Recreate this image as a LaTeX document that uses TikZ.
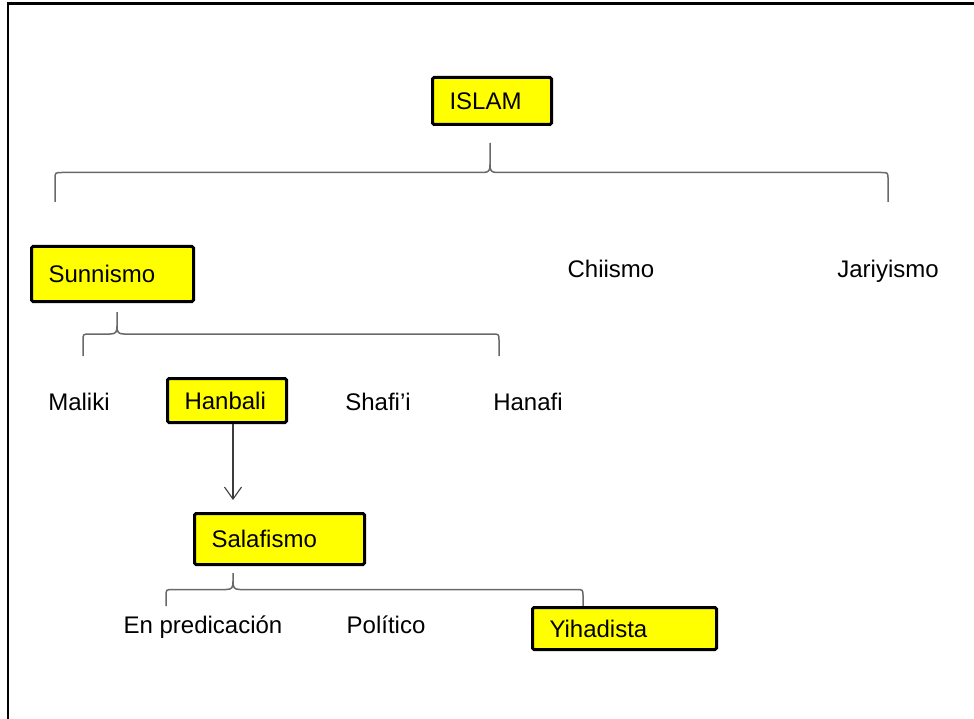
\documentclass[tikz,border=0pt]{standalone}
\usepackage{fontspec}
\setmainfont{Liberation Sans}
\usetikzlibrary{calc,arrows.meta}

\definecolor{gelb}{RGB}{255,255,0}
\definecolor{klammergrau}{RGB}{105,105,105}
\definecolor{pfeilgrau}{RGB}{60,60,60}

\tikzset{
  kasten/.style={draw=black, fill=gelb, line width=3pt, rounded corners=1.5pt,
    inner xsep=17pt, inner ysep=0pt, align=left},
  wort/.style={anchor=base, inner sep=0pt},
  klammer/.style={draw=klammergrau, line width=1.5pt},
  pfeil/.style={draw=pfeilgrau, line width=1.1pt,
    -{Straight Barb[length=12pt,width=17pt,line width=1.1pt]}}
}

% geschweifte Klammer: #1 linkes Ende, #2 rechtes Ende, #3 Spitze
\newcommand{\klammer}[3]{%
  \draw[klammer] let \p1=(#1), \p2=(#2), \p3=(#3), \p4=($(#1)!.5!(#3)$) in
    (\p1) -- (\x1,\y4-7pt) .. controls (\x1,\y4) .. (\x1+7pt,\y4)
    -- (\x3-7pt,\y4) .. controls (\x3-1pt,\y4) and (\x3,\y4+2pt) .. (\x3,\y4+8pt) -- (\p3)
    (\x3,\y4+8pt) .. controls (\x3,\y4+2pt) and (\x3+1pt,\y4) .. (\x3+7pt,\y4)
    -- (\x2-7pt,\y4) .. controls (\x2,\y4) .. (\x2,\y4-7pt) -- (\p2);
}

\begin{document}
\begin{tikzpicture}[x=1pt, y=-1pt, font=\fontsize{24}{28}\selectfont]
    \useasboundingbox (0,0) rectangle (974,719);

    % Rahmen (nur oben und links)
    \draw[line width=2.3pt] (7.8,719) -- (7.8,3.5) -- (974,3.5);

    % Ebene 1
    \node[kasten, text width=85pt, minimum height=47pt] (islam) at (492,101) {ISLAM};
    \coordinate (k1l) at (55,202);
    \coordinate (k1r) at (888,202);
    \coordinate (k1s) at (490,143);
    \klammer{k1l}{k1r}{k1s}

    % Ebene 2
    \node[kasten, text width=128pt, minimum height=55pt] (sunnismo) at (112.5,274) {Sunnismo};
    \node[wort] (chiismo) at (611,277) {Chiismo};
    \node[wort] (jariyismo) at (888,277) {Jariyismo};
    \coordinate (k2l) at (83,356);
    \coordinate (k2r) at (499,356);
    \coordinate (k2s) at (117,312);
    \klammer{k2l}{k2r}{k2s}

    % Rechtsschulen
    \node[wort] (maliki) at (79,410) {Maliki};
    \node[kasten, text width=85pt, minimum height=44pt] (hanbali) at (227,400.5) {Hanbali};
    \node[wort] (shafii) at (378,410) {Shafi’i};
    \node[wort] (hanafi) at (528,410) {Hanafi};

    % Pfeil nach unten
    \coordinate (pfeilende) at (233,500);
    \draw[pfeil] (hanbali.south -| pfeilende) -- (pfeilende);

    % Salafismo und Zweige
    \node[kasten, text width=136pt, minimum height=51pt] (salafismo) at (279.5,539) {Salafismo};
    \coordinate (k3l) at (166,606);
    \coordinate (k3r) at (583,606);
    \coordinate (k3s) at (233,573);
    \klammer{k3l}{k3r}{k3s}
    \node[wort] (predicacion) at (203,633) {En predicación};
    \node[wort] (politico) at (386,633) {Político};
    \node[kasten, text width=150pt, minimum height=42pt] (yihadista) at (624.5,628.5) {Yihadista};

\end{tikzpicture}
\end{document}
